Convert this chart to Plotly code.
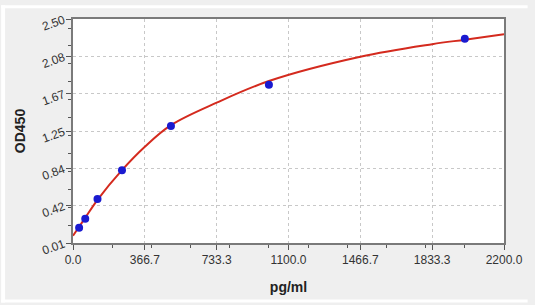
import plotly.graph_objects as go

# Standard points (concentration, OD)
conc = [31.25, 62.5, 125, 250, 500, 1000, 2000]
od = [0.18, 0.28, 0.50, 0.82, 1.31, 1.77, 2.28]

# Fitted curve
curve_x = [0, 31.25, 62.5, 125, 250, 366.7, 500, 733.3, 1000, 1466.7, 1833.3, 2000, 2200]
curve_y = [0.09, 0.19, 0.29, 0.49, 0.82, 1.08, 1.32, 1.57, 1.81, 2.08, 2.22, 2.27, 2.33]

x_ticks = [0.0, 366.7, 733.3, 1100.0, 1466.7, 1833.3, 2200.0]
x_labels = ["0.0", "366.7", "733.3", "1100.0", "1466.7", "1833.3", "2200.0"]
y_ticks = [0.01, 0.425, 0.84, 1.255, 1.67, 2.085, 2.50]
y_labels = ["0.01", "0.42", "0.84", "1.25", "1.67", "2.08", "2.50"]

fig = go.Figure()
fig.add_trace(go.Scatter(x=curve_x, y=curve_y, mode="lines",
                         line=dict(color="#d42a1e", width=2, shape="spline", smoothing=1.0),
                         hoverinfo="skip", showlegend=False))
fig.add_trace(go.Scatter(x=conc, y=od, mode="markers",
                         marker=dict(color="#1a1ad0", size=8),
                         showlegend=False))

W, H = 535, 305
ml, mr, mt, mb = 73, 24, 14, 61
pw, ph = W - ml - mr, H - mt - mb

def px_x(p):
    return (p - ml) / pw

def px_y(p):
    return (H - mb - p) / ph

white = dict(type="rect", xref="paper", yref="paper", fillcolor="white", line=dict(width=0), layer="above")
shapes = [
    dict(white, x0=px_x(0), x1=px_x(4), y0=px_y(H), y1=px_y(0)),
    dict(white, x0=px_x(0), x1=px_x(W), y0=px_y(3), y1=px_y(0)),
    dict(white, x0=px_x(0), x1=px_x(W), y0=px_y(H), y1=px_y(302)),
]

axis_common = dict(
    showline=True, linecolor="#7a7a7a", linewidth=1.5, mirror=True,
    showgrid=True, gridcolor="#c8c8c8", griddash="dot", gridwidth=1,
    ticks="outside", ticklen=5, tickcolor="#555555", tickwidth=1,
    zeroline=False,
    tickfont=dict(family="Liberation Sans, Arial", size=12, color="#333333"),
)

fig.update_layout(
    width=W, height=H,
    margin=dict(l=ml, r=mr, t=mt, b=mb),
    paper_bgcolor="#efefef",
    plot_bgcolor="white",
    shapes=shapes,
    xaxis=dict(axis_common, range=[0, 2200], tickvals=x_ticks, ticktext=x_labels,
               minor=dict(ticks="outside", ticklen=3, tickcolor="#555555", nticks=4, showgrid=False),
               title=dict(text="<b>pg/ml</b>", font=dict(family="Liberation Sans, Arial", size=14, color="#222222"), standoff=16)),
    yaxis=dict(axis_common, range=[0.01, 2.50], tickvals=y_ticks, ticktext=y_labels, tickangle=-20,
               minor=dict(ticks="outside", ticklen=3, tickcolor="#555555", nticks=4, showgrid=False),
               title=dict(text="<b>OD450</b>", font=dict(family="Liberation Sans, Arial", size=14, color="#222222"), standoff=11)),
)

fig.write_html("out.html")
